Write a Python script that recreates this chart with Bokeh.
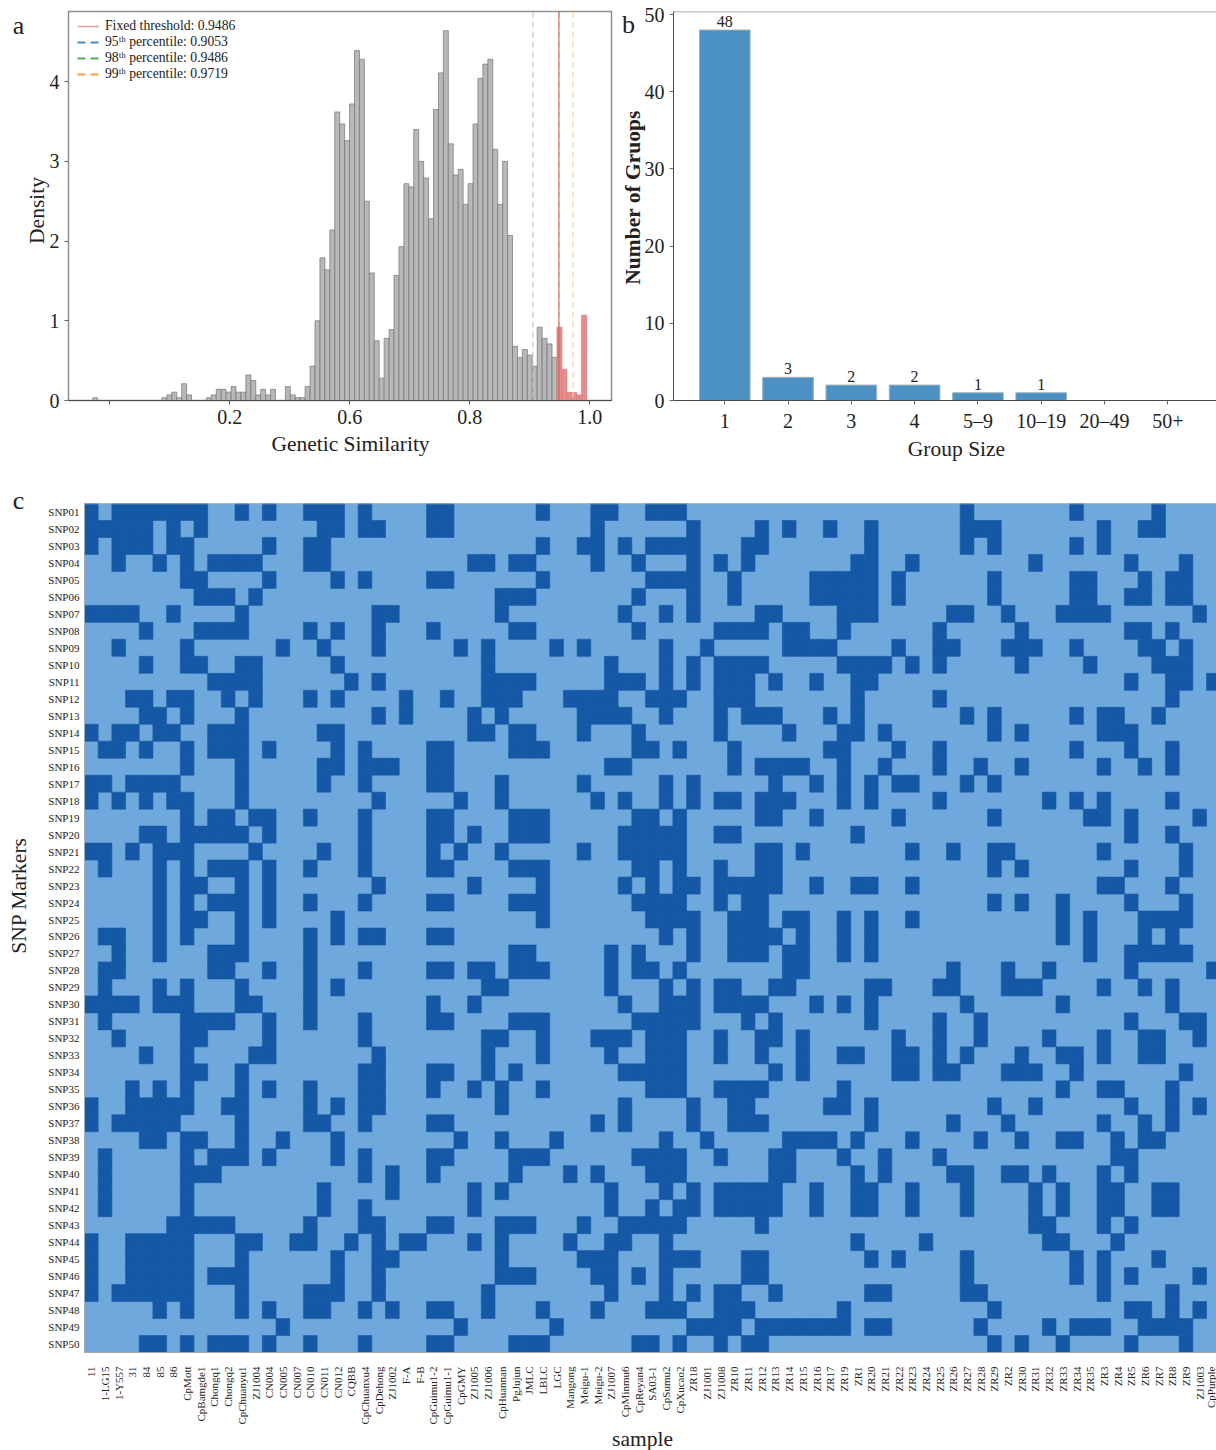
import math
from bokeh.embed import file_html
from bokeh.resources import INLINE
from bokeh.plotting import figure
from bokeh.layouts import column, row
from bokeh.models import (ColumnDataSource, Range1d, FixedTicker, Label, Span, Legend, LegendItem)
from bokeh.core.properties import value

FONT = "Liberation Serif"

# ---------- panel a data ----------
BIN_START = 0.1717
BIN_WIDTH = 0.00823
hist_gray = [0.035, 0, 0, 0, 0, 0, 0, 0, 0, 0, 0, 0, 0, 0, 0.035, 0.07, 0.105, 0.035, 0.21, 0.07,
             0, 0, 0, 0.035, 0.07, 0.14, 0.14, 0.105, 0.175, 0.105, 0.105, 0.32, 0.25, 0.07, 0.14, 0.07, 0.14,
             0, 0, 0.175, 0.07, 0.035, 0.035, 0.175, 0.43, 1.0, 1.79, 1.64, 2.14, 3.62, 3.47, 3.26, 3.72, 4.39, 4.28,
             2.5, 1.6, 0.75, 0.28, 0.78, 0.89, 1.57, 1.93, 2.72, 2.68, 3.4, 3.0, 2.79, 2.28, 3.65, 4.11, 4.64,
             3.22, 2.83, 2.9, 2.46, 2.72, 3.47, 4.04, 4.22, 4.28, 3.15, 2.46, 3.0, 2.07, 0.68, 0.54, 0.64, 0.57,
             0.43, 0.92, 0.78, 0.71, 0.54]
hist_red = [0.92, 0.39, 0.10, 0.10, 0.07, 1.07]
threshold_fixed = 0.9486
pct95 = 0.9053
pct98 = 0.9486
pct99 = 0.9719
a_tick_pos = [0.2, 0.4, 0.6, 0.8, 1.0]
a_tick_lab = ["", "0.2", "0.6", "0.8", "1.0"]
a_y_ticks = [0, 1, 2, 3, 4]

# ---------- panel b data ----------
group_sizes = ["1", "2", "3", "4", "5–9", "10–19", "20–49", "50+"]
group_counts = [48, 3, 2, 2, 1, 1, 0, 0]
b_y_ticks = [0, 10, 20, 30, 40, 50]

# ---------- panel c data ----------
samples = ["11", "1-LG15", "1-Y557", "31", "84", "85", "86", "CpMott", "CpBamgde1", "Chongq1", "Chongq2",
           "CpChuanyu1", "ZJ1004", "CN004", "CN005", "CN007", "CN010", "CN011", "CN012", "CQBB", "CpChuanxu4",
           "CpDehong", "ZJ1002", "F-A", "F-B", "CpGuimu1-2", "CpGuimu1-1", "CpGMY", "ZJ1005", "ZJ1006",
           "CpHuannan", "PgJujun", "JMLC", "LBLC", "LGC", "Mangong", "Meigu-1", "Meigu-2", "ZJ1007", "CpMinmu6",
           "CpReyan4", "SA03-1", "CpSumu2", "CpXucao2", "ZR18", "ZJ1001", "ZJ1008", "ZR10", "ZR11", "ZR12", "ZR13",
           "ZR14", "ZR15", "ZR16", "ZR17", "ZR19", "ZR1", "ZR20", "ZR21", "ZR22", "ZR23", "ZR24", "ZR25", "ZR26",
           "ZR27", "ZR28", "ZR29", "ZR2", "ZR30", "ZR31", "ZR32", "ZR33", "ZR34", "ZR35", "ZR3", "ZR4", "ZR5",
           "ZR6", "ZR7", "ZR8", "ZR9", "ZJ1003", "CpPurple"]

snp01 = [0,2,3,4,5,6,7,8,11,13,16,17,18,20,25,26,33,37,38,41,42,43,64,72,78]
snp02 = [0,1,2,3,4,6,8,17,18,20,21,25,26,37,44,49,51,54,57,64,65,66,74,77,78]
snp03 = [0,2,3,4,6,7,13,16,17,33,36,37,39,41,42,43,44,48,49,57,64,66,72,74]
snp04 = [2,5,7,9,10,11,12,16,17,28,29,31,32,37,40,44,46,48,56,57,60,69,76,80]
snp05 = [7,8,13,18,20,25,26,33,41,42,43,44,47,53,54,55,56,57,59,66,72,73,77,79,80]
snp06 = [8,9,10,12,30,31,32,40,44,47,53,54,55,56,57,59,66,72,73,76,77,79,80]
snp07 = [0,1,2,3,6,11,21,22,30,39,42,44,49,50,55,56,57,63,64,67,71,72,73,74,81]
snp08 = [4,8,9,10,11,16,18,21,25,31,32,40,46,47,48,49,51,52,55,62,68,76,77,79]
snp09 = [2,7,14,17,21,27,29,34,36,42,45,51,52,53,54,59,62,63,67,68,69,72,77,78,80]
snp10 = [4,7,8,11,12,18,29,38,42,44,46,47,48,49,55,56,57,58,60,62,68,73,78,79,80]
snp11 = [9,10,11,12,19,21,29,30,31,32,38,39,40,42,44,46,47,48,50,53,56,57,76,79,80,82]
snp12 = [3,4,6,7,10,12,16,18,23,26,29,30,31,35,36,37,38,41,42,43,46,47,48,56,62,79]
snp13 = [4,5,7,11,21,23,28,30,36,37,38,39,42,46,48,49,50,54,56,64,66,72,74,75,78]
snp14 = [0,2,3,5,6,9,10,11,17,18,28,29,31,32,36,40,46,51,55,56,58,66,68,74,75,76]
snp15 = [1,2,4,7,9,10,11,13,18,20,25,26,31,32,33,40,41,43,47,54,55,59,62,72,76,79]
snp16 = [7,11,17,18,20,21,22,25,26,38,39,47,49,50,51,52,55,58,62,65,68,74,77,79]
snp17 = [0,1,3,4,5,6,11,17,20,25,26,30,36,42,44,50,53,55,57,59,60,64,66]
snp18 = [0,2,4,6,7,11,21,27,30,37,39,42,44,46,47,49,50,51,55,57,62,70,72,74,79]
snp19 = [7,9,10,12,13,16,20,25,26,31,32,33,40,41,43,49,50,53,59,66,73,74,76,81]
snp20 = [4,5,7,8,9,10,11,13,20,25,26,28,31,32,33,39,40,41,42,43,46,47,56,76,79]
snp21 = [0,1,3,5,6,7,12,17,20,25,27,30,36,39,40,41,42,43,49,50,52,60,63,66,67,74,80]
snp22 = [1,5,7,9,10,11,13,16,20,25,26,31,32,33,40,41,43,46,49,50,66,68,76,80]
snp23 = [5,7,8,11,13,21,28,33,39,41,43,44,46,47,48,49,50,53,56,57,60,74,75,79]
snp24 = [5,7,9,10,11,13,16,20,25,26,31,32,33,40,41,42,43,46,48,49,66,68,71,76,80]
snp25 = [5,7,8,11,13,18,33,41,42,43,44,47,48,49,51,52,55,57,60,71,73,77,78,79,80]
snp26 = [1,2,5,7,11,16,18,20,21,25,26,42,44,47,48,49,50,52,55,57,71,73,77,79]
snp27 = [2,5,9,10,11,16,31,32,38,40,44,47,48,49,51,52,55,57,73,76,77,78,79,80]
snp28 = [1,2,9,10,13,16,20,25,26,28,29,31,32,33,38,40,41,43,51,52,63,67,70,76,82]
snp29 = [1,5,7,11,16,18,29,30,38,42,44,46,47,50,51,57,58,62,63,67,68,69,74,77,79]
snp30 = [0,1,2,3,5,6,7,11,12,16,25,28,39,42,43,44,46,47,48,49,53,55,57,64,71,79]
snp31 = [1,7,8,9,10,13,16,20,25,26,31,32,33,40,41,42,43,44,48,50,57,62,65,76,80,81]
snp32 = [2,7,8,13,20,29,30,33,37,38,39,41,42,43,46,49,50,52,59,62,65,70,74,77,78,81]
snp33 = [4,7,12,13,21,29,33,38,41,42,43,46,49,52,55,56,59,60,62,64,68,71,72,74,77,78]
snp34 = [7,8,11,20,21,25,26,29,31,39,40,41,42,43,50,52,59,60,62,63,67,68,69,72,80]
snp35 = [3,5,7,11,13,16,20,21,25,28,30,33,41,42,43,46,47,48,49,55,71,74,75,79]
snp36 = [0,3,4,5,6,7,10,11,16,18,20,21,30,39,44,47,48,54,55,57,66,69,76,79,81]
snp37 = [0,2,3,4,5,6,11,16,17,20,25,26,37,39,44,47,48,49,57,63,67,74,77,79]
snp38 = [4,5,7,8,11,14,18,27,30,34,42,45,51,52,53,54,56,60,65,68,71,72,75,77,78]
snp39 = [1,7,9,10,11,13,18,20,25,26,31,32,33,40,41,42,43,46,50,51,55,58,62,75,76]
snp40 = [1,7,8,9,20,22,25,31,35,37,41,42,43,50,51,56,58,63,64,67,68,70,74,76]
snp41 = [1,7,17,22,28,30,38,42,44,46,47,48,49,50,53,56,57,60,64,69,71,74,75,78,79]
snp42 = [1,7,17,20,28,38,41,43,44,46,47,48,49,50,53,56,57,60,64,69,71,74,75,78,79]
snp43 = [6,7,8,9,10,16,20,21,25,26,30,31,32,36,39,40,41,42,43,49,69,70,74,76]
snp44 = [0,3,4,5,6,7,11,12,15,16,19,21,23,24,28,30,35,38,39,42,56,61,70,71,75]
snp45 = [0,3,4,5,6,7,11,18,21,22,30,36,37,38,42,43,44,48,49,57,59,64,72,74,78]
snp46 = [0,3,4,5,6,7,9,10,11,18,21,30,31,32,37,38,40,42,48,49,64,72,74,76,81]
snp47 = [0,2,3,4,5,6,7,11,16,17,18,21,29,38,42,44,46,47,50,57,58,64,65,74,79]
snp48 = [5,7,11,13,16,17,20,22,25,26,29,33,37,41,42,43,46,47,48,55,66,76,77,79,81]
snp49 = [14,27,34,44,45,46,47,49,50,51,52,53,54,55,57,58,65,70,72,73,74,77,78,79,80]
snp50 = [4,5,7,9,10,11,13,16,20,25,26,31,32,33,40,41,43,46,48,49,66,68,71,76,80]

marker_rows = [snp01, snp02, snp03, snp04, snp05, snp06, snp07, snp08, snp09, snp10,
               snp11, snp12, snp13, snp14, snp15, snp16, snp17, snp18, snp19, snp20,
               snp21, snp22, snp23, snp24, snp25, snp26, snp27, snp28, snp29, snp30,
               snp31, snp32, snp33, snp34, snp35, snp36, snp37, snp38, snp39, snp40,
               snp41, snp42, snp43, snp44, snp45, snp46, snp47, snp48, snp49, snp50]
markers = [f"SNP{i + 1:02d}" for i in range(len(marker_rows))]

TXT = "#222222"
SPINE = "#8f8f8f"
AXIS = "#4a4a4a"
PAGE_W, PAGE_H = 1216, 1450


def base_style(p):
    p.grid.visible = False
    for ax in list(p.xaxis) + list(p.yaxis):
        ax.major_label_text_font = FONT
        ax.major_label_text_color = TXT
        ax.minor_tick_line_color = None


# A transparent sheet over the three panels carries the titles and panel letters,
# because a Label inside a figure is clipped to that figure's frame.
sheet = figure(width=PAGE_W, height=PAGE_H, output_backend="svg", toolbar_location=None,
               x_range=Range1d(0, PAGE_W), y_range=Range1d(PAGE_H, 0),
               x_axis_location=None, y_axis_location=None,
               min_border=0, min_border_left=0, min_border_right=0, min_border_top=0, min_border_bottom=0,
               background_fill_alpha=0, border_fill_alpha=0, frame_align=False,
               outline_line_color=None, margin=(-PAGE_H, 0, 0, 0))
sheet.grid.visible = False


def put_text(text, px, py, size, angle=0.0, bold=False):
    sheet.add_layout(Label(x=px, y=py, text=text, text_font=FONT, text_font_size=f"{size}px",
                           text_color=TXT, text_align="center", text_baseline="middle", angle=angle,
                           text_font_style="bold" if bold else "normal"))


# ---------- panel a ----------
pa = figure(width=615, height=470, output_backend="svg", toolbar_location=None,
            x_range=Range1d(0.1312, 1.0362), y_range=Range1d(0, 4.88),
            min_border_left=68, min_border_right=4, min_border_top=11, min_border_bottom=70)
base_style(pa)
gray_x = [BIN_START + BIN_WIDTH * (i + 0.5) for i in range(len(hist_gray))]
red_x = [BIN_START + BIN_WIDTH * (i + len(hist_gray) + 0.5) for i in range(len(hist_red))]
pa.vbar(x=gray_x, top=hist_gray, width=BIN_WIDTH, fill_color="#b8b8b8", line_color="#747474", line_width=0.7)
pa.vbar(x=red_x, top=hist_red, width=BIN_WIDTH, fill_color="#e88b8b", line_color="#d98080", line_width=0.8)
pa.add_layout(Span(location=pct95, dimension="height", line_color="#a9cde8", line_width=1.2, line_dash="6 4"))
pa.add_layout(Span(location=pct99, dimension="height", line_color="#fbcfa6", line_width=1.2, line_dash="6 4"))
pa.add_layout(Span(location=threshold_fixed, dimension="height", line_color="#e8534f", line_width=1))
pa.add_layout(Span(location=pct98, dimension="height", line_color="#6f9a5a", line_width=0.6, line_dash="6 4"))
nan = float("nan")
key_fixed = pa.line([threshold_fixed] * 2, [nan, nan], line_color="#ef9a9a", line_width=1.5)
key_95 = pa.line([pct95] * 2, [nan, nan], line_color="#3d8fcb", line_width=2, line_dash="8 5")
key_98 = pa.line([pct98] * 2, [nan, nan], line_color="#4fb04f", line_width=2, line_dash="8 5")
key_99 = pa.line([pct99] * 2, [nan, nan], line_color="#fb9a3c", line_width=2, line_dash="8 5")
legend = Legend(items=[LegendItem(label=f"Fixed threshold: {threshold_fixed:.4f}", renderers=[key_fixed]),
                       LegendItem(label=f"95ᵗʰ percentile: {pct95:.4f}", renderers=[key_95]),
                       LegendItem(label=f"98ᵗʰ percentile: {pct98:.4f}", renderers=[key_98]),
                       LegendItem(label=f"99ᵗʰ percentile: {pct99:.4f}", renderers=[key_99])],
                location=(9, 318), background_fill_alpha=0, border_line_color=None,
                label_text_font=FONT, label_text_font_size="13.7px", label_text_color=TXT,
                glyph_width=22, glyph_height=16, label_height=16, label_standoff=6,
                spacing=0, margin=0, padding=0)
pa.add_layout(legend)
pa.outline_line_color = SPINE
pa.outline_line_width = 1.5
pa.xaxis.ticker = FixedTicker(ticks=a_tick_pos)
pa.xaxis.major_label_overrides = dict(zip(a_tick_pos, a_tick_lab))
pa.yaxis.ticker = FixedTicker(ticks=a_y_ticks)
for ax in (pa.xaxis, pa.yaxis):
    ax.major_label_text_font_size = "20px"
    ax.major_tick_in = 0
    ax.major_tick_out = 4
    ax.major_tick_line_color = "#666666"
    ax.major_label_standoff = 5
pa.xaxis.axis_line_color = AXIS
pa.yaxis.axis_line_color = SPINE
pa.yaxis.major_label_orientation = "horizontal"
put_text("Genetic Similarity", 350, 443, 21.5)
put_text("Density", 36, 210, 21.5, angle=math.pi / 2)
put_text("a", 18, 25, 26)

# ---------- panel b ----------
pb = figure(width=601, height=470, output_backend="svg", toolbar_location=None,
            x_range=Range1d(-0.81, 7.77), y_range=Range1d(0, 50.4),
            min_border_left=58, min_border_right=0, min_border_top=11, min_border_bottom=70)
base_style(pb)
xs_b = list(range(len(group_sizes)))
src_b = ColumnDataSource(dict(x=xs_b, top=group_counts))
pb.vbar(x="x", top="top", width=0.8, source=src_b, fill_color="#4c91c4", line_color="#9fb0bd", line_width=1)
lab_idx = [i for i, v in enumerate(group_counts) if v > 0]
src_lab = ColumnDataSource(dict(x=[xs_b[i] for i in lab_idx], y=[group_counts[i] for i in lab_idx],
                                t=[str(group_counts[i]) for i in lab_idx]))
pb.text(x="x", y="y", text="t", source=src_lab, text_font=value(FONT), text_font_size="16px",
        text_color=TXT, text_align="center", text_baseline="bottom", y_offset=-3)
pb.outline_line_color = None
pb.add_layout(Span(location=50.4, dimension="width", line_color=SPINE, line_width=1.5))
pb.xaxis.ticker = FixedTicker(ticks=xs_b)
pb.xaxis.major_label_overrides = dict(zip(xs_b, group_sizes))
pb.yaxis.ticker = FixedTicker(ticks=b_y_ticks)
for ax in (pb.xaxis, pb.yaxis):
    ax.major_label_text_font_size = "20px"
    ax.major_tick_in = 0
    ax.major_tick_out = 4
    ax.major_tick_line_color = "#666666"
    ax.axis_line_color = AXIS
pb.xaxis.major_label_standoff = 5
pb.yaxis.major_label_standoff = 5
pb.yaxis.major_label_orientation = "horizontal"
put_text("Group Size", 956, 448, 21.5)
put_text("Number of Gruops", 632, 197, 21.5, angle=math.pi / 2, bold=True)
put_text("b", 628, 24, 26)

# ---------- panel c ----------
pc = figure(width=1216, height=980, output_backend="svg", toolbar_location=None,
            x_range=Range1d(0, 82.73), y_range=Range1d(len(markers), 0),
            min_border_left=84, min_border_right=0, min_border_top=33, min_border_bottom=98,
            background_fill_color="#6fa8dc")
base_style(pc)
lx, ly, dx, dy = [], [], [], []
for r, dark in enumerate(marker_rows):
    for c in range(len(samples)):
        if c in dark:
            dx.append(c + 0.5)
            dy.append(r + 0.5)
        else:
            lx.append(c + 0.5)
            ly.append(r + 0.5)
pc.rect(x=lx, y=ly, width=1, height=1, fill_color="#6fa8dc", line_color=None)
pc.rect(x=dx, y=dy, width=1, height=1, fill_color="#1558a6", line_color="#1558a6", line_width=0.6)
pc.outline_line_color = None
pc.add_layout(Span(location=0, dimension="width", line_color="#a8a8a8", line_width=1.5))
x_pos = [i + 0.5 for i in range(len(samples))]
y_pos = [i + 0.5 for i in range(len(markers))]
pc.xaxis.ticker = FixedTicker(ticks=x_pos)
pc.xaxis.major_label_overrides = dict(zip(x_pos, samples))
pc.yaxis.ticker = FixedTicker(ticks=y_pos)
pc.yaxis.major_label_overrides = dict(zip(y_pos, markers))
pc.xaxis.major_label_orientation = math.pi / 2
pc.yaxis.major_label_orientation = "horizontal"
for ax in (pc.xaxis, pc.yaxis):
    ax.major_label_text_font_size = "11px"
    ax.major_tick_line_color = None
    ax.major_tick_in = 0
    ax.major_tick_out = 0
    ax.axis_line_color = "#a8a8a8"
pc.xaxis.major_label_standoff = 14
pc.yaxis.major_label_standoff = 5
put_text("sample", 642, 1438, 21.5)
put_text("SNP Markers", 18, 895, 21.5, angle=math.pi / 2)
put_text("c", 18, 500, 26)

layout = column(row(pa, pb, spacing=0), pc, sheet, spacing=0)
open("out.html", "w").write(file_html(layout, INLINE))
